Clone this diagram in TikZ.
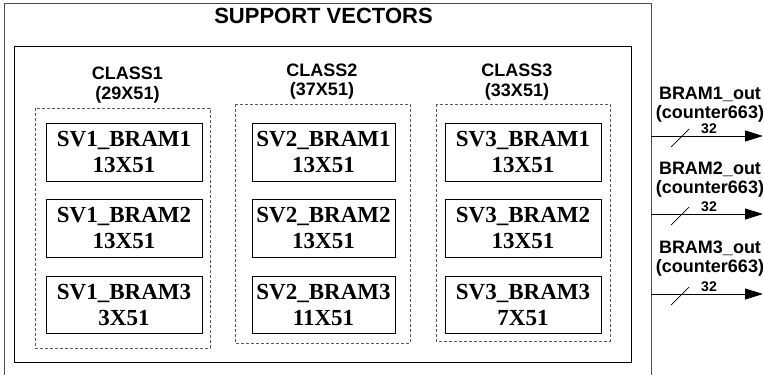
\documentclass[tikz,border=0pt]{standalone}
\usepackage{fontspec}
\setmainfont{Liberation Serif}
\setsansfont{Liberation Sans}
\usetikzlibrary{arrows.meta}
\tikzset{
  svbox/.style={draw=black, line width=0.8pt, align=center, inner sep=0pt,
    font=\fontsize{23}{26}\selectfont\bfseries},
  classlbl/.style={align=center, inner sep=0pt, font=\sffamily\bfseries\fontsize{18}{19.5}\selectfont},
  outlbl/.style={align=center, inner sep=0pt, font=\sffamily\bfseries\fontsize{18}{19}\selectfont},
  dashbox/.style={draw=black!65, line width=0.8pt, dash pattern=on 3pt off 2pt},
  busarrow/.style={line width=0.9pt, -{Triangle[length=18pt,width=11pt]}},
  buswidth/.style={font=\sffamily\bfseries\fontsize{14}{14}\selectfont, inner sep=0pt}
}
\begin{document}
\begin{tikzpicture}[x=1pt,y=-1pt]
\useasboundingbox (0,0) rectangle (764,375);
% outer box (open at bottom)
\draw[black!70, line width=0.9pt] (4,378) -- (4,3) -- (651,3) -- (651,378);
\node[font=\sffamily\bfseries\fontsize{22}{24}\selectfont, inner sep=0pt] (title) at (323.5,16) {SUPPORT VECTORS};
% inner box
\draw[black, line width=0.9pt] (14,46) rectangle (631,362);
% class labels
\node[classlbl] (c1) at (127.5,85) {CLASS1\\(29X51)};
\node[classlbl] (c2) at (322,81.5) {CLASS2\\(37X51)};
\node[classlbl] (c3) at (517,82) {CLASS3\\(33X51)};
% dashed groups
\draw[dashbox] (35,108) rectangle (210,348);
\draw[dashbox] (235,104) rectangle (410,343);
\draw[dashbox] (436,104) rectangle (610,341);
% class 1 boxes
\node[svbox, minimum width=156pt, minimum height=58pt] (sv11) at (124,152) {SV1\_BRAM1\\13X51};
\node[svbox, minimum width=156pt, minimum height=58pt] (sv12) at (124,228) {SV1\_BRAM2\\13X51};
\node[svbox, minimum width=156pt, minimum height=57pt] (sv13) at (124,304.5) {SV1\_BRAM3\\3X51};
% class 2 boxes
\node[svbox, minimum width=143pt, minimum height=58pt] (sv21) at (323.5,152) {SV2\_BRAM1\\13X51};
\node[svbox, minimum width=143pt, minimum height=58pt] (sv22) at (323.5,228) {SV2\_BRAM2\\13X51};
\node[svbox, minimum width=143pt, minimum height=57pt] (sv23) at (323.5,304.5) {SV2\_BRAM3\\11X51};
% class 3 boxes
\node[svbox, minimum width=156pt, minimum height=58pt] (sv31) at (523,152) {SV3\_BRAM1\\13X51};
\node[svbox, minimum width=156pt, minimum height=58pt] (sv32) at (523,228) {SV3\_BRAM2\\13X51};
\node[svbox, minimum width=156pt, minimum height=57pt] (sv33) at (523,304.5) {SV3\_BRAM3\\7X51};
% outputs
\node[outlbl] (o1) at (710,104.5) {BRAM1\_out\\(counter663)};
\node[outlbl] (o2) at (710,179.5) {BRAM2\_out\\(counter663)};
\node[outlbl] (o3) at (710,258.5) {BRAM3\_out\\(counter663)};
\coordinate (s1) at (651,136); \coordinate (e1) at (763,136);
\coordinate (s2) at (651,214); \coordinate (e2) at (763,214);
\coordinate (s3) at (651,294); \coordinate (e3) at (763,294);
\draw[busarrow] (s1) -- (e1);
\draw[busarrow] (s2) -- (e2);
\draw[busarrow] (s3) -- (e3);
\draw[line width=0.7pt] (671,147) -- (689,129);
\draw[line width=0.7pt] (671,225) -- (689,207);
\draw[line width=0.7pt] (671,305) -- (689,287);
\node[buswidth, anchor=base] (w1) at (709,133.5) {32};
\node[buswidth, anchor=base] (w2) at (709,211.5) {32};
\node[buswidth, anchor=base] (w3) at (709,291.5) {32};
\end{tikzpicture}
\end{document}
